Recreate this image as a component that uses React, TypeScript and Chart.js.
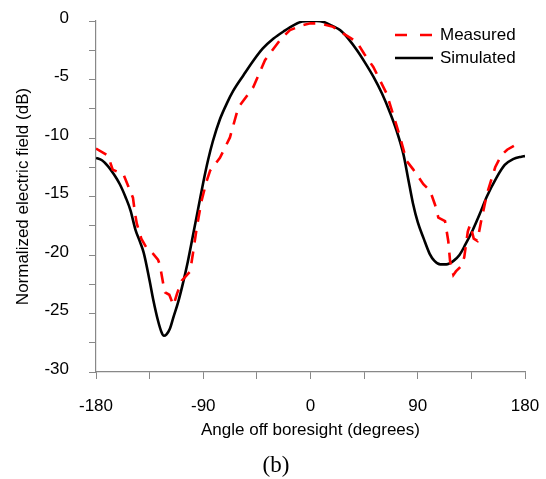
import React, { useEffect, useRef } from 'react';
import { Chart, registerables } from 'chart.js';

Chart.register(...registerables);

const measuredAngles = [
  -180, -170, -166, -157, -153, -149, -147.3, -145.8, -142, -137.5, -132, -128, -126.5, -123.5, -122, -118.5,
  -115, -112, -108, -101, -98.4, -95.5, -91.5, -87.2, -84.3, -76, -67.6, -60.6, -48, -38.2, -25.6, -17.2,
  -6, 0, 8, 19, 28, 38.8, 45, 52.7, 58, 63.9, 70.9, 75.1, 80.6, 86.3, 94.7, 100.3, 104.5, 107.3, 112.9,
  115.6, 117.1, 119.9, 122, 126, 129, 132, 134, 137, 140, 143, 148, 155, 160, 165, 172,
];
const measuredValues = [
  -10.9, -11.5, -12.7, -13.1, -14.1, -15.1, -16.4, -17.3, -18.6, -19.4, -19.9, -20.4, -20.8, -22.5, -23.2, -23.4,
  -24.3, -23.3, -22.2, -21.4, -19.7, -17.7, -15.4, -13.7, -12.8, -11.7, -9.95, -7.4, -5.65, -3.35, -1.63, -0.77,
  -0.34, -0.2, -0.2, -0.5, -1.1, -1.78, -2.8, -3.93, -5.0, -6.2, -8.5, -9.9, -11.95, -12.7, -13.95, -14.5, -15.7, -16.8, -17.1,
  -18.8, -20.5, -21.7, -21.4, -21.0, -20.2, -18.0, -17.4, -18.6, -18.8, -17.2, -14.8, -12.5, -11.5, -11.0, -10.6,
];

const simulatedAngles = [
  -180, -175, -170, -165, -160, -155, -151, -147, -143, -140, -135, -132, -128, -125, -123, -121, -118, -115,
  -111, -107, -103, -98, -94, -90, -86, -82, -76, -70, -65, -56, -48, -40, -31, -22, -14, -7, 0, 5, 11, 18,
  25, 32, 39, 46, 53, 60, 67, 72, 78, 82, 86, 90, 95, 100, 104, 109, 114, 120, 125, 130, 136, 142, 148, 156,
  163, 170, 177, 180,
];
const simulatedValues = [
  -11.7, -11.9, -12.4, -13.1, -13.95, -15.1, -16.2, -17.8, -18.9, -19.8, -22.2, -23.8, -25.6, -26.6, -26.9, -26.8, -26.3, -25.3,
  -24.0, -22.4, -20.6, -18.0, -15.9, -13.8, -11.9, -10.3, -8.4, -7.0, -6.0, -4.6, -3.4, -2.35, -1.5, -0.85, -0.35, -0.05, 0, 0, -0.08, -0.4,
  -0.8, -1.55, -2.5, -3.6, -4.8, -6.2, -7.9, -9.3, -11.4, -13.5, -15.6, -17.2, -18.6, -19.9, -20.5, -20.8, -20.8, -20.5, -20.0, -19.1, -17.9, -16.5, -15.0, -13.4,
  -12.3, -11.8, -11.6, -11.55,
];

const xTickLabels = [-180, -90, 0, 90, 180];
const yTickLabels = [0, -5, -10, -15, -20, -25, -30];

const FONT = '"Liberation Sans", Arial, sans-serif';

const insideLegend = {
  id: 'insideLegend',
  afterDraw(chart: any) {
    const ctx = chart.ctx;
    const { right, top } = chart.chartArea;
    ctx.save();
    chart.data.datasets.forEach((ds: any, i: number) => {
      const y = top + 14 + i * 23;
      const x0 = right - 130;
      const x1 = right - 92;
      ctx.beginPath();
      ctx.strokeStyle = ds.borderColor;
      ctx.lineWidth = ds.borderWidth;
      ctx.setLineDash(ds.borderDash && ds.borderDash.length ? [12, 13] : []);
      ctx.moveTo(x0, y);
      ctx.lineTo(x1, y);
      ctx.stroke();
      ctx.setLineDash([]);
      ctx.fillStyle = '#000';
      ctx.font = `17px ${FONT}`;
      ctx.textAlign = 'left';
      ctx.textBaseline = 'middle';
      ctx.fillText(ds.label, right - 85, y);
    });
    ctx.restore();
  },
};

const zeroPadding = (s: any) => {
  s.paddingLeft = 0;
  s.paddingRight = 0;
  s.paddingTop = 0;
  s.paddingBottom = 0;
};

export default function App() {
  const ref = useRef<HTMLCanvasElement | null>(null);

  useEffect(() => {
    document.body.style.margin = '0';
    if (!ref.current) return;
    const chart = new Chart(ref.current, {
      type: 'line',
      data: {
        datasets: [
          {
            label: 'Measured',
            data: measuredAngles.map((a, i) => ({ x: a, y: measuredValues[i] })),
            borderColor: '#ff0000',
            borderWidth: 2.6,
            borderDash: [12, 9],
            pointRadius: 0,
            tension: 0,
          },
          {
            label: 'Simulated',
            data: simulatedAngles.map((a, i) => ({ x: a, y: simulatedValues[i] })),
            borderColor: '#000000',
            borderWidth: 2.6,
            pointRadius: 0,
            cubicInterpolationMode: 'monotone',
          },
        ],
      },
      options: {
        animation: false,
        responsive: false,
        devicePixelRatio: 1,
        layout: { autoPadding: false, padding: { top: 21, right: 21, left: 0, bottom: 0 } },
        plugins: {
          legend: { display: false },
          tooltip: { enabled: false },
        },
        scales: {
          x: {
            type: 'linear',
            min: -180,
            max: 180,
            afterFit: (s: any) => {
              s.height = 107;
              zeroPadding(s);
            },
            ticks: {
              stepSize: 45,
              autoSkip: false,
              maxRotation: 0,
              padding: 17,
              color: '#000',
              font: { family: FONT, size: 17 },
              callback: (v: any) => (xTickLabels.includes(Number(v)) ? String(v) : ''),
            },
            grid: { drawOnChartArea: false, drawTicks: true, tickLength: 7, color: '#888' },
            border: { display: true, color: '#888', width: 1.2 },
            title: {
              display: true,
              text: 'Angle off boresight (degrees)',
              color: '#000',
              font: { family: FONT, size: 17 },
              padding: { top: 0, bottom: 38.8 },
            },
          },
          y: {
            type: 'linear',
            min: -30,
            max: 0,
            afterFit: (s: any) => {
              s.width = 96;
              zeroPadding(s);
            },
            ticks: {
              stepSize: 2.5,
              autoSkip: false,
              padding: 20,
              labelOffset: -3,
              color: '#000',
              font: { family: FONT, size: 17 },
              callback: (v: any) => (yTickLabels.includes(Number(v)) ? String(v) : ''),
            },
            grid: { drawOnChartArea: false, drawTicks: true, tickLength: 7, color: '#888' },
            border: { display: true, color: '#888', width: 1.2 },
            title: {
              display: true,
              text: 'Normalized electric field (dB)',
              color: '#000',
              font: { family: FONT, size: 17 },
              padding: { top: 13, bottom: 0 },
            },
          },
        },
      },
      plugins: [insideLegend],
    } as any);
    return () => chart.destroy();
  }, []);

  return (
    <div style={{ position: 'relative', width: 546, height: 479 }}>
      <canvas ref={ref} width={546} height={479} style={{ display: 'block' }} />
      <div
        style={{
          position: 'absolute',
          top: 452,
          left: 0,
          width: 540,
          paddingLeft: 6,
          textAlign: 'center',
          fontFamily: '"Liberation Serif", "Times New Roman", serif',
          fontSize: 23,
          lineHeight: '26px',
          color: '#000',
        }}
      >
        (b)
      </div>
    </div>
  );
}
